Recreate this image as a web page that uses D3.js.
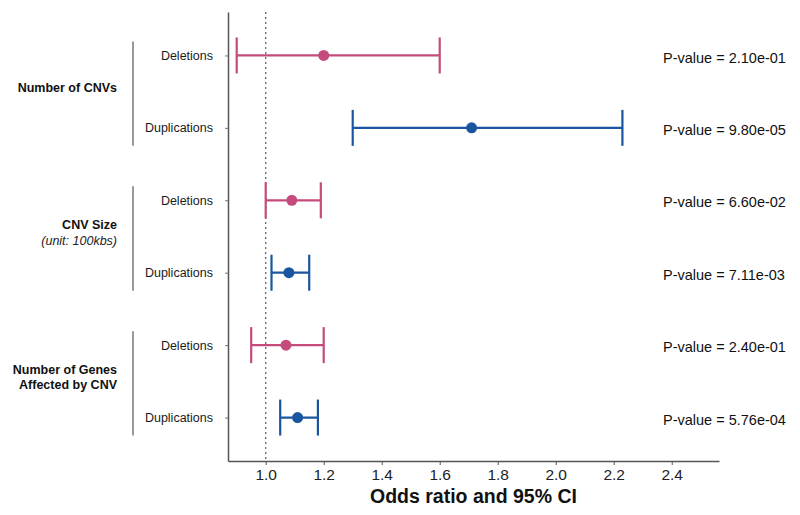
<!DOCTYPE html>
<html>
<head>
<meta charset="utf-8">
<title>Forest plot - CNV odds ratios</title>
<script src="https://cdn.jsdelivr.net/npm/d3@7/dist/d3.min.js"></script>
<style>
  body { margin: 0; background: #fff; }
  text { font-family: "Liberation Sans", Arial, sans-serif; }
</style>
</head>
<body>
<script>
// data
var rowLabels = ["Deletions", "Duplications", "Deletions", "Duplications", "Deletions", "Duplications"];
var rowType   = ["del", "dup", "del", "dup", "del", "dup"];
var oddsRatio = [1.20, 1.71, 1.09, 1.08, 1.07, 1.11];
var ciLow     = [0.90, 1.30, 1.00, 1.02, 0.95, 1.05];
var ciHigh    = [1.60, 2.23, 1.19, 1.15, 1.20, 1.18];
var pValues   = ["2.10e-01", "9.80e-05", "6.60e-02", "7.11e-03", "2.40e-01", "5.76e-04"];

var groupRows  = [[0, 1], [2, 3], [4, 5]];
var groupLines = [["Number of CNVs"], ["CNV Size", "(unit: 100kbs)"], ["Number of Genes", "Affected by CNV"]];
var xTicks = [1.0, 1.2, 1.4, 1.6, 1.8, 2.0, 2.2, 2.4];

var width = 800, height = 515,
    plotLeft = 228, plotRight = 719, plotTop = 12, plotBottom = 461;

var colors = { del: "#c44b7c", dup: "#1a56a0" };

var x = d3.scaleLinear()
    .domain([0.87, 2.563])
    .range([plotLeft, plotRight]);

var y = d3.scalePoint()
    .domain(d3.range(rowLabels.length))
    .range([plotTop, plotBottom])
    .padding(0.6);

var svg = d3.select("body").append("svg")
    .attr("width", width)
    .attr("height", height);

// x axis
var xAxis = svg.append("g")
    .attr("transform", "translate(0," + plotBottom + ")")
    .call(d3.axisBottom(x).tickValues(xTicks).tickFormat(d3.format(".1f"))
        .tickSize(4).tickSizeOuter(0).tickPadding(4));
xAxis.attr("font-family", null).attr("font-size", null);
xAxis.select(".domain").attr("stroke", "#555").attr("stroke-width", 1.5);
xAxis.selectAll(".tick line").attr("stroke", "#555");
xAxis.selectAll(".tick text").style("font-size", "15.5px").attr("fill", "#222");

// y axis
var yAxis = svg.append("g")
    .attr("transform", "translate(" + plotLeft + ",0)")
    .call(d3.axisLeft(y).tickFormat(function(i){ return rowLabels[i]; })
        .tickSize(3).tickSizeOuter(0).tickPadding(12));
yAxis.attr("font-family", null).attr("font-size", null);
yAxis.select(".domain").attr("stroke", "#555").attr("stroke-width", 1.5);
yAxis.selectAll(".tick line").attr("stroke", "#777");
yAxis.selectAll(".tick text").style("font-size", "12.5px").attr("fill", "#1a1a1a");

// reference line at OR = 1
svg.append("line")
    .attr("x1", x(1)).attr("x2", x(1))
    .attr("y1", plotTop).attr("y2", plotBottom)
    .attr("stroke", "#666")
    .attr("stroke-width", 1.3)
    .attr("stroke-dasharray", "2,3");

// error bars
var rows = svg.append("g").selectAll("g")
    .data(d3.range(rowLabels.length))
  .enter().append("g")
    .attr("stroke", function(i){ return colors[rowType[i]]; })
    .attr("fill", function(i){ return colors[rowType[i]]; });

rows.append("line")
    .attr("x1", function(i){ return x(ciLow[i]); })
    .attr("x2", function(i){ return x(ciHigh[i]); })
    .attr("y1", function(i){ return y(i); })
    .attr("y2", function(i){ return y(i); })
    .attr("stroke-width", 2.2);

rows.append("line")
    .attr("x1", function(i){ return x(ciLow[i]); })
    .attr("x2", function(i){ return x(ciLow[i]); })
    .attr("y1", function(i){ return y(i) - 18; })
    .attr("y2", function(i){ return y(i) + 18; })
    .attr("stroke-width", 2.2);

rows.append("line")
    .attr("x1", function(i){ return x(ciHigh[i]); })
    .attr("x2", function(i){ return x(ciHigh[i]); })
    .attr("y1", function(i){ return y(i) - 18; })
    .attr("y2", function(i){ return y(i) + 18; })
    .attr("stroke-width", 2.2);

rows.append("circle")
    .attr("cx", function(i){ return x(oddsRatio[i]); })
    .attr("cy", function(i){ return y(i); })
    .attr("r", 5.5)
    .attr("stroke", "none");

// p-values
svg.append("g").selectAll("text")
    .data(d3.range(pValues.length))
  .enter().append("text")
    .attr("x", 663)
    .attr("y", function(i){ return y(i) + 2; })
    .attr("dy", "0.35em")
    .style("font-size", "14.5px")
    .attr("fill", "#111")
    .text(function(i){ return "P-value = " + pValues[i]; });

// group brackets and labels
groupRows.forEach(function(g, k){
    var y0 = y(g[0]), y1 = y(g[g.length - 1]);
    svg.append("line")
        .attr("x1", 133).attr("x2", 133)
        .attr("y1", y0 - 14).attr("y2", y1 + 18)
        .attr("stroke", "#777")
        .attr("stroke-width", 1.5);

    var lines = groupLines[k];
    var mid = (y0 + y1) / 2 - 4;
    var lh = 15.5;
    lines.forEach(function(s, j){
        var t = svg.append("text")
            .attr("x", 117)
            .attr("y", mid - (lines.length - 1) * lh / 2 + j * lh)
            .attr("dy", "0.35em")
            .attr("text-anchor", "end")
            .style("font-size", "12.5px")
            .attr("fill", "#111")
            .text(s);
        if (s.charAt(0) === "(") t.attr("font-style", "italic").attr("fill", "#222");
        else t.attr("font-weight", "bold");
    });
});

// x axis title
svg.append("text")
    .attr("x", (plotLeft + plotRight) / 2)
    .attr("y", 496)
    .attr("dy", "0.35em")
    .attr("text-anchor", "middle")
    .style("font-size", "19.5px")
    .attr("font-weight", "bold")
    .attr("fill", "#111")
    .text("Odds ratio and 95% CI");
</script>
</body>
</html>
